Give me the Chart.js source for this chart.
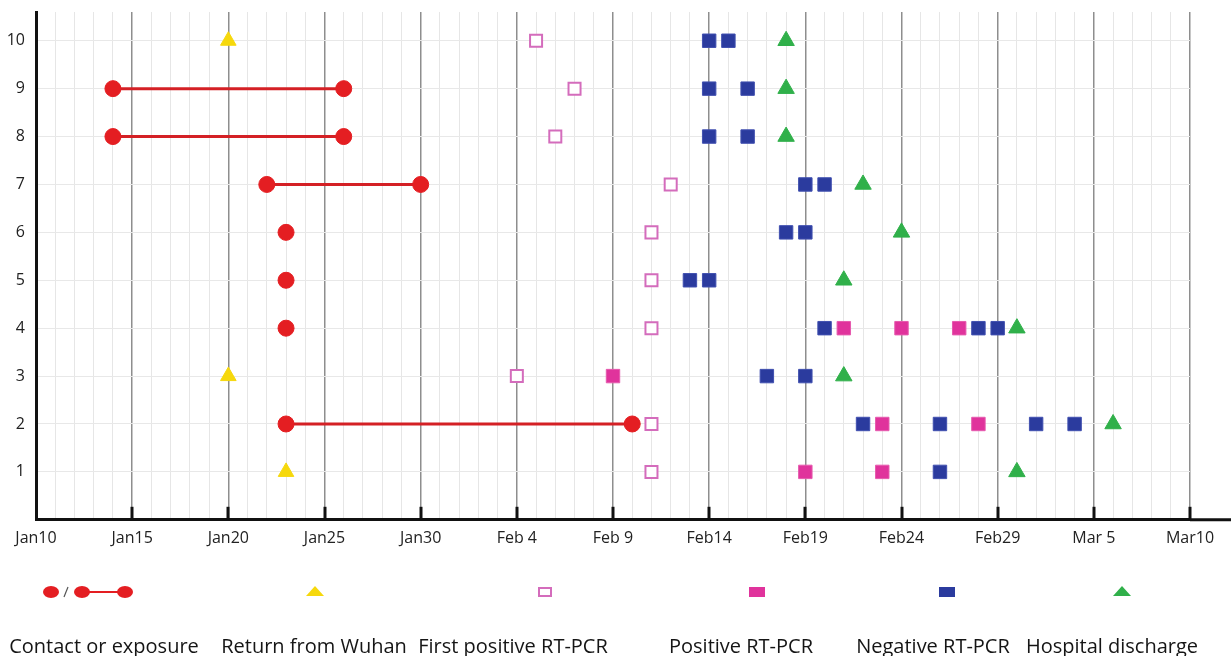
<!DOCTYPE html>
<html>
<head>
<meta charset="utf-8">
<script src="https://cdn.jsdelivr.net/npm/chart.js@4.4.1/dist/chart.umd.min.js"></script>
<style>
  html, body { margin: 0; padding: 0; background: #fff; }
  #wrap { width: 1231px; height: 656px; }
</style>
</head>
<body>
<div id="wrap"><canvas id="timeline" width="1231" height="656"></canvas></div>
<script>
// tick labels every 5 days, starting Jan 10 2020
const xTickLabels = ['Jan10', 'Jan15', 'Jan20', 'Jan25', 'Jan30', 'Feb 4', 'Feb 9', 'Feb14', 'Feb19', 'Feb24', 'Feb29', 'Mar 5', 'Mar10'];

const contactPatients = [9, 8, 7, 6, 5, 4, 2];
const contactFrom = ['Jan 14', 'Jan 14', 'Jan 22', 'Jan 23', 'Jan 23', 'Jan 23', 'Jan 23'];
const contactTo = ['Jan 26', 'Jan 26', 'Jan 30', 'Jan 23', 'Jan 23', 'Jan 23', 'Feb 10'];

const returnPatients = [10, 3, 1];
const returnDates = ['Jan 20', 'Jan 20', 'Jan 23'];

const firstPosPatients = [10, 9, 8, 7, 6, 5, 4, 3, 2, 1];
const firstPosDates = ['Feb 5', 'Feb 7', 'Feb 6', 'Feb 12', 'Feb 11', 'Feb 11', 'Feb 11', 'Feb 4', 'Feb 11', 'Feb 11'];

const positivePatients = [4, 4, 4, 3, 2, 2, 1, 1];
const positiveDates = ['Feb 21', 'Feb 24', 'Feb 27', 'Feb 9', 'Feb 23', 'Feb 28', 'Feb 19', 'Feb 23'];

const negativePatients = [10, 10, 9, 9, 8, 8, 7, 7, 6, 6, 5, 5, 4, 4, 4, 3, 3, 2, 2, 2, 2, 1];
const negativeDates = ['Feb 14', 'Feb 15', 'Feb 14', 'Feb 16', 'Feb 14', 'Feb 16', 'Feb 19', 'Feb 20', 'Feb 18', 'Feb 19',
  'Feb 13', 'Feb 14', 'Feb 20', 'Feb 28', 'Feb 29', 'Feb 17', 'Feb 19', 'Feb 22', 'Feb 26', 'Mar 2', 'Mar 4', 'Feb 26'];

const dischargePatients = [10, 9, 8, 7, 6, 5, 4, 3, 2, 1];
const dischargeDates = ['Feb 18', 'Feb 18', 'Feb 18', 'Feb 22', 'Feb 24', 'Feb 21', 'Mar 1', 'Feb 21', 'Mar 6', 'Mar 1'];

const legendLabels = ['Contact or exposure', 'Return from Wuhan', 'First positive RT-PCR', 'Positive RT-PCR', 'Negative RT-PCR', 'Hospital discharge'];

const RED = '#e41e22', YELLOW = '#f6d80c', OPEN = '#d46cbc', PINK = '#e0339c', BLUE = '#2b3b9e', GREEN = '#30b04a';

const monthIdx = { Jan: 0, Feb: 1, Mar: 2 };
function dayOf(s) {
  const [m, d] = s.split(' ');
  return (Date.UTC(2020, monthIdx[m], +d) - Date.UTC(2020, 0, 10)) / 86400000;
}
function points(patients, dates) {
  return patients.map((p, i) => ({ x: dayOf(dates[i]), y: p }));
}

const datasets = [];
contactPatients.forEach((p, i) => {
  const data = [{ x: dayOf(contactFrom[i]), y: p }];
  if (contactTo[i] !== contactFrom[i]) data.push({ x: dayOf(contactTo[i]), y: p });
  datasets.push({
    label: 'Contact or exposure', data, showLine: true,
    borderColor: '#d42025', borderWidth: 3,
    pointStyle: 'circle', pointRadius: 8, pointBackgroundColor: RED, pointBorderColor: RED, pointBorderWidth: 1
  });
});
datasets.push({ label: 'Return from Wuhan', data: points(returnPatients, returnDates), pointStyle: 'triangle', pointRadius: 9, backgroundColor: YELLOW, borderColor: YELLOW, borderWidth: 1 });
datasets.push({ label: 'First positive RT-PCR', data: points(firstPosPatients, firstPosDates), pointStyle: 'rect', pointRadius: 8.5, backgroundColor: '#fff', borderColor: OPEN, borderWidth: 2 });
datasets.push({ label: 'Positive RT-PCR', data: points(positivePatients, positiveDates), pointStyle: 'rect', pointRadius: 9.5, backgroundColor: PINK, borderColor: '#e65aae', borderWidth: 1 });
datasets.push({ label: 'Negative RT-PCR', data: points(negativePatients, negativeDates), pointStyle: 'rect', pointRadius: 9.5, backgroundColor: BLUE, borderColor: '#4150b0', borderWidth: 1 });
datasets.push({ label: 'Hospital discharge', data: points(dischargePatients, dischargeDates), pointStyle: 'triangle', pointRadius: 9.5, backgroundColor: GREEN, borderColor: GREEN, borderWidth: 1 });

// short tick marks inside the plot + x axis running to the edge
const axisExtras = {
  id: 'axisExtras',
  afterDraw(chart) {
    const { ctx, chartArea, scales } = chart;
    ctx.save();
    ctx.strokeStyle = '#111';
    ctx.lineWidth = 3;
    for (let v = 5; v <= 60; v += 5) {
      const px = Math.round(scales.x.getPixelForValue(v));
      ctx.beginPath();
      ctx.moveTo(px, chartArea.bottom);
      ctx.lineTo(px, chartArea.bottom - 13);
      ctx.stroke();
    }
    ctx.beginPath();
    ctx.moveTo(chartArea.right, chartArea.bottom);
    ctx.lineTo(chart.width, chartArea.bottom);
    ctx.stroke();
    ctx.restore();
  }
};

// legend: marker row with text row underneath
const legendBelow = {
  id: 'legendBelow',
  afterDraw(chart) {
    const ctx = chart.ctx;
    const my = 592, ty = 653;
    ctx.save();
    // contact or exposure
    ctx.fillStyle = RED;
    ctx.strokeStyle = RED;
    ctx.lineWidth = 2;
    ctx.beginPath(); ctx.moveTo(82, my); ctx.lineTo(125, my); ctx.stroke();
    [51, 82, 125].forEach(cx => { ctx.beginPath(); ctx.ellipse(cx, my, 8, 6, 0, 0, Math.PI * 2); ctx.fill(); });
    ctx.strokeStyle = '#555'; ctx.lineWidth = 1.2;
    ctx.beginPath(); ctx.moveTo(64, my + 5); ctx.lineTo(68, my - 5); ctx.stroke();
    // triangles
    const tri = (cx, col) => {
      ctx.fillStyle = col;
      ctx.beginPath(); ctx.moveTo(cx, my - 6); ctx.lineTo(cx + 9, my + 4); ctx.lineTo(cx - 9, my + 4); ctx.closePath(); ctx.fill();
    };
    tri(315, YELLOW);
    tri(1122, GREEN);
    // open square
    ctx.strokeStyle = OPEN; ctx.lineWidth = 2;
    ctx.strokeRect(539, my - 4, 12, 8);
    ctx.fillStyle = PINK; ctx.fillRect(749, my - 5, 16, 10);
    ctx.fillStyle = BLUE; ctx.fillRect(939, my - 5, 16, 10);
    // text
    ctx.fillStyle = '#151515';
    ctx.font = '20px "Open Sans"';
    ctx.textAlign = 'center';
    ctx.textBaseline = 'alphabetic';
    const tx = [104, 314, 513, 741, 933, 1112];
    legendLabels.forEach((t, i) => ctx.fillText(t, tx[i], ty));
    ctx.restore();
  }
};

new Chart(document.getElementById('timeline'), {
  type: 'scatter',
  data: { datasets },
  options: {
    responsive: false,
    animation: false,
    events: [],
    layout: { padding: { top: 12, right: 41, bottom: 99, left: 0 } },
    plugins: { legend: { display: false }, tooltip: { enabled: false } },
    scales: {
      x: {
        type: 'linear', min: 0, max: 60,
        border: { color: '#111', width: 3 },
        grid: {
          drawTicks: false,
          color: c => c.tick.value % 5 === 0 ? '#8e8e8e' : '#e6e6e6',
          lineWidth: c => c.tick.value % 5 === 0 ? 1.5 : 1
        },
        ticks: {
          stepSize: 1, autoSkip: false, maxRotation: 0, padding: 9,
          color: '#222', font: { family: 'Open Sans', size: 16 },
          callback: v => v % 5 === 0 ? xTickLabels[v / 5] : ''
        }
      },
      y: {
        type: 'linear', min: 0, max: 10.6,
        afterFit: s => { s.width = 36; s.paddingTop = 0; s.paddingBottom = 0; },
        border: { color: '#111', width: 3 },
        grid: {
          drawTicks: false,
          color: c => (Number.isInteger(c.tick.value) && c.tick.value > 0) ? '#e8e8e8' : 'rgba(0,0,0,0)'
        },
        ticks: {
          stepSize: 1, padding: 11,
          color: '#222', font: { family: 'Open Sans', size: 16 },
          callback: v => (Number.isInteger(v) && v > 0) ? v : ''
        }
      }
    }
  },
  plugins: [axisExtras, legendBelow]
});
</script>
</body>
</html>
